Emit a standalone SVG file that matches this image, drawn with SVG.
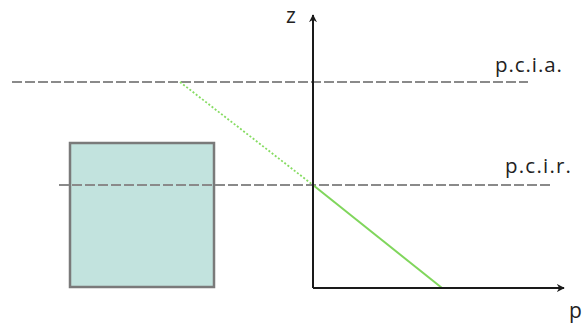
<svg xmlns="http://www.w3.org/2000/svg" width="588" height="325" viewBox="0 0 588 325">
<defs>
<style>
.lbl{font-family:"Open Sans","Liberation Sans",sans-serif;fill:#222;font-weight:500;}
.dash{stroke:#8a8a8a;stroke-width:2;stroke-dasharray:10 3;fill:none;}
.axis{stroke:#1a1a1a;stroke-width:2;fill:none;}
</style>
<marker id="arr" viewBox="0 0 10 10" refX="9" refY="5" markerWidth="4" markerHeight="4" orient="auto-start-reverse">
<path d="M0,0 L10,5 L0,10 L3,5 Z" fill="#1a1a1a"/>
</marker>
</defs>
<rect width="588" height="325" fill="#fff"/>
<g id="box">
<rect x="70" y="143" width="144" height="144" fill="#c2e3de" stroke="#7a7a7a" stroke-width="2.5"/>
</g>
<g id="connectors">
<line class="dash" x1="12" y1="82" x2="528" y2="82"/>
<line class="dash" x1="59" y1="185" x2="550" y2="185"/>
<line x1="180" y1="82" x2="313" y2="185" stroke="#86dc62" stroke-width="1.8" stroke-dasharray="2 2"/>
<line x1="313" y1="185" x2="442" y2="288" stroke="#80d65c" stroke-width="2"/>
<line class="axis" x1="313" y1="288" x2="313" y2="15" marker-end="url(#arr)"/>
<line class="axis" x1="313" y1="288" x2="564" y2="288" marker-end="url(#arr)"/>
</g>
<g id="labels">
<text class="lbl" x="286" y="23" font-size="21" font-weight="600">z</text>
<text class="lbl" x="569" y="318" font-size="21">p</text>
<text class="lbl" x="495" y="72" font-size="20.5" textLength="67" lengthAdjust="spacing">p.c.i.a.</text>
<text class="lbl" x="505" y="173" font-size="20.5" textLength="66" lengthAdjust="spacing">p.c.i.r.</text>
</g>
</svg>
